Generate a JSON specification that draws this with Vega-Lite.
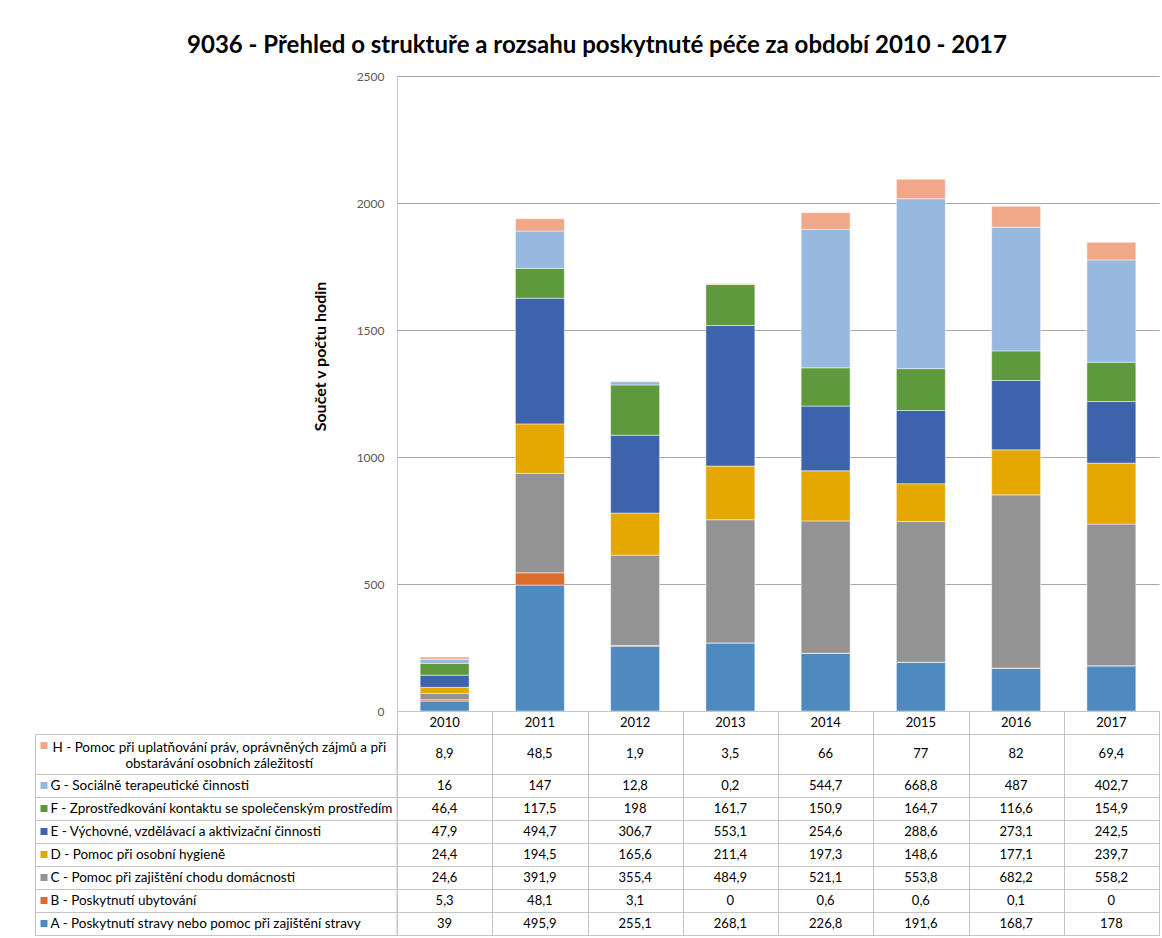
{
  "$schema": "https://vega.github.io/schema/vega-lite/v6.json",
  "title": {
    "text": "9036 - Přehled o struktuře a rozsahu poskytnuté péče za období 2010 - 2017",
    "font": "Lato",
    "fontSize": 24,
    "fontWeight": "bold",
    "color": "#000000",
    "anchor": "middle",
    "offset": 12
  },
  "padding": {"left": 34, "top": 34, "right": 0, "bottom": 0},
  "autosize": {"type": "pad"},
  "config": {
    "locale": {
      "number": {"decimal": ",", "thousands": "\u00a0", "grouping": [3], "currency": ["", " Kč"]}
    },
    "view": {"stroke": "#C4C4C4", "strokeWidth": 1},
    "text": {"font": "Lato", "fontSize": 13, "color": "#000000"}
  },
  "datasets": {
    "kategorie": [
      {"kod": "A", "nazev": "A - Poskytnutí stravy nebo pomoc při zajištění stravy"},
      {"kod": "B", "nazev": "B - Poskytnutí ubytování"},
      {"kod": "C", "nazev": "C - Pomoc při zajištění chodu domácnosti"},
      {"kod": "D", "nazev": "D - Pomoc při osobní hygieně"},
      {"kod": "E", "nazev": "E - Výchovné, vzdělávací a aktivizační činnosti"},
      {"kod": "F", "nazev": "F - Zprostředkování kontaktu se společenským prostředím"},
      {"kod": "G", "nazev": "G - Sociálně terapeutické činnosti"},
      {"kod": "H", "nazev": "H - Pomoc při uplatňování práv, oprávněných zájmů a při\nobstarávání osobních záležitostí"}
    ],
    "hodiny": [
      {"rok": "2010", "kod": "A", "hodiny": 39},
      {"rok": "2011", "kod": "A", "hodiny": 495.9},
      {"rok": "2012", "kod": "A", "hodiny": 255.1},
      {"rok": "2013", "kod": "A", "hodiny": 268.1},
      {"rok": "2014", "kod": "A", "hodiny": 226.8},
      {"rok": "2015", "kod": "A", "hodiny": 191.6},
      {"rok": "2016", "kod": "A", "hodiny": 168.7},
      {"rok": "2017", "kod": "A", "hodiny": 178},
      {"rok": "2010", "kod": "B", "hodiny": 5.3},
      {"rok": "2011", "kod": "B", "hodiny": 48.1},
      {"rok": "2012", "kod": "B", "hodiny": 3.1},
      {"rok": "2013", "kod": "B", "hodiny": 0},
      {"rok": "2014", "kod": "B", "hodiny": 0.6},
      {"rok": "2015", "kod": "B", "hodiny": 0.6},
      {"rok": "2016", "kod": "B", "hodiny": 0.1},
      {"rok": "2017", "kod": "B", "hodiny": 0},
      {"rok": "2010", "kod": "C", "hodiny": 24.6},
      {"rok": "2011", "kod": "C", "hodiny": 391.9},
      {"rok": "2012", "kod": "C", "hodiny": 355.4},
      {"rok": "2013", "kod": "C", "hodiny": 484.9},
      {"rok": "2014", "kod": "C", "hodiny": 521.1},
      {"rok": "2015", "kod": "C", "hodiny": 553.8},
      {"rok": "2016", "kod": "C", "hodiny": 682.2},
      {"rok": "2017", "kod": "C", "hodiny": 558.2},
      {"rok": "2010", "kod": "D", "hodiny": 24.4},
      {"rok": "2011", "kod": "D", "hodiny": 194.5},
      {"rok": "2012", "kod": "D", "hodiny": 165.6},
      {"rok": "2013", "kod": "D", "hodiny": 211.4},
      {"rok": "2014", "kod": "D", "hodiny": 197.3},
      {"rok": "2015", "kod": "D", "hodiny": 148.6},
      {"rok": "2016", "kod": "D", "hodiny": 177.1},
      {"rok": "2017", "kod": "D", "hodiny": 239.7},
      {"rok": "2010", "kod": "E", "hodiny": 47.9},
      {"rok": "2011", "kod": "E", "hodiny": 494.7},
      {"rok": "2012", "kod": "E", "hodiny": 306.7},
      {"rok": "2013", "kod": "E", "hodiny": 553.1},
      {"rok": "2014", "kod": "E", "hodiny": 254.6},
      {"rok": "2015", "kod": "E", "hodiny": 288.6},
      {"rok": "2016", "kod": "E", "hodiny": 273.1},
      {"rok": "2017", "kod": "E", "hodiny": 242.5},
      {"rok": "2010", "kod": "F", "hodiny": 46.4},
      {"rok": "2011", "kod": "F", "hodiny": 117.5},
      {"rok": "2012", "kod": "F", "hodiny": 198},
      {"rok": "2013", "kod": "F", "hodiny": 161.7},
      {"rok": "2014", "kod": "F", "hodiny": 150.9},
      {"rok": "2015", "kod": "F", "hodiny": 164.7},
      {"rok": "2016", "kod": "F", "hodiny": 116.6},
      {"rok": "2017", "kod": "F", "hodiny": 154.9},
      {"rok": "2010", "kod": "G", "hodiny": 16},
      {"rok": "2011", "kod": "G", "hodiny": 147},
      {"rok": "2012", "kod": "G", "hodiny": 12.8},
      {"rok": "2013", "kod": "G", "hodiny": 0.2},
      {"rok": "2014", "kod": "G", "hodiny": 544.7},
      {"rok": "2015", "kod": "G", "hodiny": 668.8},
      {"rok": "2016", "kod": "G", "hodiny": 487},
      {"rok": "2017", "kod": "G", "hodiny": 402.7},
      {"rok": "2010", "kod": "H", "hodiny": 8.9},
      {"rok": "2011", "kod": "H", "hodiny": 48.5},
      {"rok": "2012", "kod": "H", "hodiny": 1.9},
      {"rok": "2013", "kod": "H", "hodiny": 3.5},
      {"rok": "2014", "kod": "H", "hodiny": 66},
      {"rok": "2015", "kod": "H", "hodiny": 77},
      {"rok": "2016", "kod": "H", "hodiny": 82},
      {"rok": "2017", "kod": "H", "hodiny": 69.4}
    ]
  },
  "columns": 2,
  "spacing": 0,
  "bounds": "flush",
  "resolve": {"scale": {"x": "independent", "y": "independent", "color": "independent"}},
  "concat": [
    {
      "width": 361.5,
      "height": 635,
      "view": {"stroke": null},
      "data": {"values": []},
      "mark": "text",
      "encoding": {}
    },
    {
      "width": 762,
      "height": 635,
      "view": {"stroke": null},
      "data": {"name": "hodiny"},
      "mark": {"type": "bar", "stroke": "#FFFFFF", "strokeWidth": 0.8, "strokeOpacity": 0.6},
      "encoding": {
        "x": {
          "field": "rok",
          "type": "nominal",
          "scale": {"paddingInner": 0.486, "paddingOuter": 0.243},
          "axis": null
        },
        "y": {
          "field": "hodiny",
          "type": "quantitative",
          "aggregate": "sum",
          "stack": "zero",
          "scale": {"domain": [0, 2500], "nice": false},
          "axis": {
            "title": "Součet v počtu hodin",
            "titleFont": "Lato",
            "titleFontSize": 16,
            "titleFontWeight": "bold",
            "titleColor": "#000000",
            "titleX": -77,
            "titleY": 280,
            "titleBaseline": "middle",
            "values": [0, 500, 1000, 1500, 2000, 2500],
            "format": "d",
            "labelFont": "Lato",
            "labelFontSize": 12,
            "labelColor": "#595959",
            "labelPadding": 13,
            "ticks": false,
            "grid": true,
            "gridColor": "#A8A8A8",
            "domain": true,
            "domainColor": "#C8C8C8"
          }
        },
        "color": {
          "field": "kod",
          "type": "nominal",
          "scale": {
            "domain": ["A", "B", "C", "D", "E", "F", "G", "H"],
            "range": ["#4E89C0", "#DB6C2B", "#939393", "#E4A800", "#3C63AC", "#5F993D", "#97B9DF", "#F1A889"]
          },
          "legend": null
        },
        "order": {"field": "kod", "sort": "ascending"}
      }
    },
    {
      "width": 361.5,
      "height": 23,
      "view": {"stroke": null},
      "data": {"values": []},
      "mark": "text",
      "encoding": {}
    },
    {
      "width": 762,
      "height": 23,
      "data": {"name": "hodiny"},
      "transform": [{"filter": "datum.kod == 'A'"}],
      "mark": {"type": "text", "dy": 0.5},
      "encoding": {
        "x": {
          "field": "rok",
          "type": "nominal",
          "scale": {"type": "band", "paddingInner": 0, "paddingOuter": 0},
          "axis": {"grid": true, "tickBand": "extent", "gridColor": "#C4C4C4", "labels": false, "ticks": false, "domain": false, "title": null}
        },
        "text": {"field": "rok"}
      }
    },
    {
      "width": 361.5,
      "height": 40,
      "data": {"name": "kategorie"},
      "transform": [{"filter": "datum.kod == 'H'"}],
      "encoding": {
        "x": {"datum": "popis", "type": "nominal", "scale": {"type": "band", "paddingInner": 0, "paddingOuter": 0}, "axis": null}
      },
      "layer": [
        {
          "mark": {"type": "square", "size": 49, "filled": true, "opacity": 1, "xOffset": 9, "yOffset": -8.5},
          "encoding": {
            "x": {"datum": "popis", "type": "nominal", "bandPosition": 0},
            "color": {
              "field": "kod",
              "type": "nominal",
              "scale": {
                "domain": ["A", "B", "C", "D", "E", "F", "G", "H"],
                "range": ["#4E89C0", "#DB6C2B", "#939393", "#E4A800", "#3C63AC", "#5F993D", "#97B9DF", "#F1A889"]
              },
              "legend": null
            }
          }
        },
        {
          "mark": {"type": "text", "align": "center", "fontSize": 13.5, "dx": 3.5, "dy": -6.3, "lineBreak": "\n", "lineHeight": 16.6},
          "encoding": {"text": {"field": "nazev"}}
        }
      ]
    },
    {
      "width": 762,
      "height": 40,
      "data": {"name": "hodiny"},
      "transform": [{"filter": "datum.kod == 'H'"}],
      "mark": {"type": "text"},
      "encoding": {
        "x": {
          "field": "rok",
          "type": "nominal",
          "scale": {"type": "band", "paddingInner": 0, "paddingOuter": 0},
          "axis": {"grid": true, "tickBand": "extent", "gridColor": "#C4C4C4", "labels": false, "ticks": false, "domain": false, "title": null}
        },
        "text": {"field": "hodiny", "type": "quantitative", "format": "~f"}
      }
    },
    {
      "width": 361.5,
      "height": 161,
      "data": {"name": "kategorie"},
      "transform": [{"filter": "datum.kod != 'H'"}],
      "encoding": {
        "x": {"datum": "popis", "type": "nominal", "scale": {"type": "band", "paddingInner": 0, "paddingOuter": 0}, "axis": null},
        "y": {
          "field": "kod",
          "type": "nominal",
          "sort": ["G", "F", "E", "D", "C", "B", "A"],
          "scale": {"type": "band", "paddingInner": 0, "paddingOuter": 0},
          "axis": {"grid": true, "tickBand": "extent", "gridColor": "#C4C4C4", "labels": false, "ticks": false, "domain": false, "title": null}
        }
      },
      "layer": [
        {
          "mark": {"type": "square", "size": 49, "filled": true, "opacity": 1, "xOffset": 9},
          "encoding": {
            "x": {"datum": "popis", "type": "nominal", "bandPosition": 0},
            "color": {
              "field": "kod",
              "type": "nominal",
              "scale": {
                "domain": ["A", "B", "C", "D", "E", "F", "G", "H"],
                "range": ["#4E89C0", "#DB6C2B", "#939393", "#E4A800", "#3C63AC", "#5F993D", "#97B9DF", "#F1A889"]
              },
              "legend": null
            }
          }
        },
        {
          "mark": {"type": "text", "align": "left", "fontSize": 13.5, "dx": 15.5},
          "encoding": {
            "x": {"datum": "popis", "type": "nominal", "bandPosition": 0},
            "text": {"field": "nazev"}
          }
        }
      ]
    },
    {
      "width": 762,
      "height": 161,
      "data": {"name": "hodiny"},
      "transform": [{"filter": "datum.kod != 'H'"}],
      "mark": {"type": "text"},
      "encoding": {
        "x": {
          "field": "rok",
          "type": "nominal",
          "scale": {"type": "band", "paddingInner": 0, "paddingOuter": 0},
          "axis": {"grid": true, "tickBand": "extent", "gridColor": "#C4C4C4", "labels": false, "ticks": false, "domain": false, "title": null}
        },
        "y": {
          "field": "kod",
          "type": "nominal",
          "sort": ["G", "F", "E", "D", "C", "B", "A"],
          "scale": {"type": "band", "paddingInner": 0, "paddingOuter": 0},
          "axis": {"grid": true, "tickBand": "extent", "gridColor": "#C4C4C4", "labels": false, "ticks": false, "domain": false, "title": null}
        },
        "text": {"field": "hodiny", "type": "quantitative", "format": "~f"}
      }
    }
  ]
}
